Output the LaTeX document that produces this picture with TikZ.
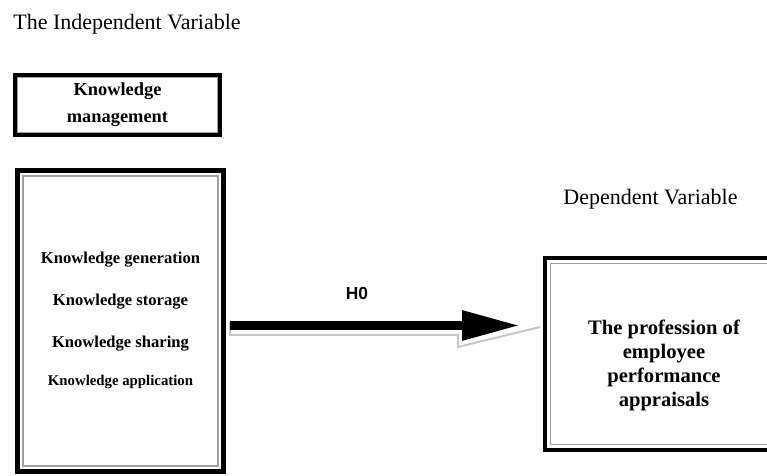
\documentclass[tikz,border=0pt]{standalone}
\usepackage{fontspec}
\setmainfont{Liberation Serif}
\newfontfamily\labelfont{Liberation Sans}
\usetikzlibrary{arrows.meta}
\usetikzlibrary{positioning}

\begin{document}
\begin{tikzpicture}[x=0.5pt,y=-0.5pt,
    frame node/.style={draw,line width=2.4pt,inner sep=0pt,outer sep=0pt},
    item node/.style={font=\bfseries\fontsize{8.3}{10}\selectfont,inner sep=0pt},
    title node/.style={font=\fontsize{11}{13}\selectfont,inner sep=0pt,anchor=base west},
    inner line/.style={draw=gray!75,line width=0.8pt},
    shadow line/.style={draw=gray!45,line width=1pt,line join=miter},
    h0 arrow/.style={line width=4.5pt,-{Triangle[length=29pt,width=14pt]},shorten <=3.25pt,shorten >=12.5pt},
    h0 label/.style={font=\labelfont\bfseries\fontsize{8.7}{10}\selectfont,inner sep=0pt}]
  \useasboundingbox (0,0) rectangle (767,476);
  \clip (0,0) rectangle (767,476);

  % titles
  \node[title node] (ivtitle) at (13,30) {The Independent Variable};
  \node[title node] (dvtitle) at (563,205) {Dependent Variable};

  % independent variable
  \node[frame node,line width=2pt,minimum width=102.5pt,minimum height=30pt,align=center,
        font=\bfseries\fontsize{9.2}{13.5}\selectfont] (km) at (117.5,105) {Knowledge\\management};
  \draw[inner line,line width=0.5pt] ([shift={(1.4pt,-1.4pt)}]km.north west) rectangle ([shift={(-1.4pt,1.4pt)}]km.south east);

  \node[frame node,line width=2.5pt,minimum width=103pt,minimum height=150.5pt] (kp) at (120.5,321) {};
  \draw[inner line] ([shift={(2.75pt,-2.75pt)}]kp.north west) rectangle ([shift={(-2.75pt,2.75pt)}]kp.south east);
  \node[item node] (kgen) at (120.5,260) {Knowledge generation};
  \node[item node] (ksto) at (120.5,302) {Knowledge storage};
  \node[item node] (kshr) at (120.5,344) {Knowledge sharing};
  \node[item node,font=\bfseries\fontsize{7.4}{9}\selectfont] (kapp) at (120.5,382) {Knowledge application};

  % dependent variable
  \node[frame node,line width=2pt,minimum width=119pt,minimum height=96pt] (dv) at (664,354) {};
  \draw[inner line] ([shift={(2.75pt,-2.75pt)}]dv.north west) rectangle ([shift={(-2.75pt,2.75pt)}]dv.south east);
  \node[align=center,inner sep=0pt,font=\bfseries\fontsize{10.3}{12}\selectfont] (dvtext) at (664,365)
    {The profession of\\employee\\performance\\appraisals};

  % hypothesis arrow
  \coordinate (h0start) at ([yshift=-2.25pt]kp.east);
  \draw[shadow line] ([shift={(6.5,-3.5)}]h0start) -- ++(0,13) -- ++(228,0) -- ++(0,12) -- ++(82,-20);
  \draw[h0 arrow] (h0start) -- node[h0 label,pos=0.415,yshift=15.75pt] (h0) {H0} (h0start -| dv.west);
\end{tikzpicture}
\end{document}
